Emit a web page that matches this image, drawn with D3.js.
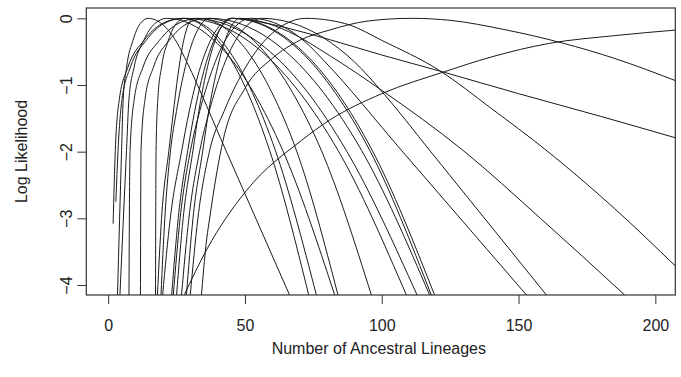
<!DOCTYPE html>
<html><head><meta charset="utf-8">
<script src="https://cdn.jsdelivr.net/npm/d3@7"></script>
<style>
body{margin:0;background:#fff}
text{font-family:"Liberation Sans",Arial,Helvetica,sans-serif;fill:#222}
</style>
</head><body>
<svg id="chart" width="681" height="377"></svg>
<script>
// ---- data ----
const xTicks = [0, 50, 100, 150, 200];
const yTicks = [0, -1, -2, -3, -4];
const xTitle = "Number of Ancestral Lineages";
const yTitle = "Log Likelihood";

// one [lineages, logLik] list per curve
const cA = [[1.8,-3.08],[2.6,-1.98],[4.06,-1.22],[7.24,-0.73],[13.1,-0.33],[19.7,-0.08],[27,0],[35,-0.124],[43,-0.495],[51,-1.114],[59,-1.98],[73.3,-4.15]];
const cB = [[2.8,-2.75],[3.6,-1.98],[5.03,-1.22],[8.14,-0.73],[13.9,-0.33],[20.3,-0.08],[27.5,0],[35.9,-0.124],[44.3,-0.495],[52.7,-1.114],[61.1,-1.98],[76.1,-4.15]];
const cC = [[3.4,-4.15],[4.9,-1.98],[5.48,-1.22],[6.74,-0.73],[9.07,-0.33],[11.69,-0.08],[14.6,0],[18.15,-0.041],[21.7,-0.165],[25.25,-0.372],[28.8,-0.661],[43,-1.98],[66.3,-4.15]];
const cD = [[4.3,-4.15],[6.7,-1.98],[7.58,-1.22],[9.49,-0.73],[13.02,-0.33],[17.0,-0.08],[21.4,0],[32,-0.124],[42.6,-0.495],[53.2,-1.114],[63.8,-1.98],[82.8,-4.15]];
const cE = [[7.6,-4.15],[7.74,-3.0],[8,-1.98],[9.5,-1.22],[12.75,-0.73],[18.75,-0.33],[25.5,-0.08],[33,0],[41.95,-0.124],[50.9,-0.495],[59.85,-1.114],[68.8,-1.98],[84,-4.15]];
const cF = [[11.8,-4.15],[11.87,-3.0],[12,-1.98],[13.44,-1.22],[16.56,-0.73],[22.32,-0.33],[28.8,-0.08],[36,0],[46.5,-0.124],[56.95,-0.495],[67.4,-1.114],[77.9,-1.98],[96.2,-4.15]];
const cG = [[17.3,-4.15],[17.38,-3.0],[17.5,-1.98],[18.13,-1.22],[19.5,-0.73],[22.0,-0.33],[24.85,-0.08],[28,0],[42,-0.124],[56,-0.495],[70,-1.114],[84,-1.98],[109,-4.15]];
const cH = [[18,-4.15],[19.5,-3.0],[22.2,-1.98],[23.7,-1.45],[25.5,-0.85],[27.6,-0.33],[29.3,-0.09],[31,0],[45,-0.124],[59,-0.495],[73,-1.114],[87,-1.98],[112.9,-4.15]];
const cI = [[19.3,-4.15],[20.7,-3.0],[22.8,-1.98],[24.93,-1.4],[27.77,-0.8],[31.32,-0.3],[34.16,-0.08],[37,0],[50.9,-0.124],[64.8,-0.495],[78.7,-1.114],[92.6,-1.98],[117.5,-4.15]];
const cJ = [[19.9,-4.15],[22.7,-3.0],[26.9,-1.98],[29.6,-1.4],[33.2,-0.8],[37.8,-0.3],[41.4,-0.08],[45,0],[57.65,-0.124],[70.3,-0.495],[82.95,-1.114],[95.6,-1.98],[118.1,-4.15]];
const cK = [[23.2,-4.15],[25.6,-3.0],[29.1,-1.98],[31.6,-1.4],[34.9,-0.8],[39,-0.3],[42.3,-0.08],[45.6,0],[58.3,-0.124],[71.05,-0.495],[83.8,-1.114],[96.5,-1.98],[119.3,-4.15]];
const cL = [[23.8,-4.15],[26.3,-3.0],[30.1,-1.98],[33.4,-1.4],[37.8,-0.8],[43.2,-0.3],[47.6,-0.08],[52,0],[58.75,-0.04],[65.5,-0.16],[72.25,-0.361],[79,-0.641],[107.2,-1.98],[152.9,-4.15]];
const cM = [[26.8,-4.15],[29.5,-3.0],[33.5,-1.98],[36.9,-1.4],[41.4,-0.8],[47,-0.3],[51.5,-0.08],[56,0],[67.25,-0.071],[78.5,-0.286],[89.75,-0.643],[101,-1.143],[117.5,-1.98],[160.2,-4.15]];
const cN = [[28.6,-4.15],[31,-3.0],[34.6,-1.98],[36.8,-1.38],[39.6,-0.8],[43,-0.3],[45.6,-0.08],[48,0],[56,-0.05],[66,-0.2],[81,-0.56],[100,-1.08],[129.7,-1.98],[158,-3.0],[188.8,-4.15]];
const cO = [[30,-4.15],[32.8,-3.0],[37.1,-1.98],[42.3,-1.4],[49.3,-0.8],[58,-0.3],[65,-0.08],[72,0],[81,-0.03],[88.3,-0.1],[100,-0.33],[121,-0.78],[140,-1.35],[160,-1.975],[185,-2.85],[207.7,-3.73]];
const cP = [[25,-4.15],[27.4,-3.0],[31,-1.98],[33.1,-1.4],[35.9,-0.8],[39.4,-0.3],[42.2,-0.08],[45,0],[55,-0.05],[65,-0.14],[81,-0.32],[100,-0.55],[122,-0.8],[150,-1.13],[180,-1.47],[208,-1.8]];
const cQ = [[34.1,-4.15],[35.5,-3.5],[37.7,-2.83],[42,-1.83],[50,-1.05],[60,-0.6],[70,-0.33],[81,-0.175],[95,-0.04],[111,0],[125,-0.03],[145,-0.17],[166,-0.37],[185,-0.6],[207.7,-0.94]];
const cR = [[27.8,-4.15],[36,-3.47],[50.6,-2.58],[70.7,-1.83],[81,-1.525],[100,-1.13],[123,-0.8],[140,-0.58],[161.3,-0.375],[185,-0.26],[207.7,-0.175]];

const curves = [cA,cB,cC,cD,cE,cF,cG,cH,cI,cJ,cK,cL,cM,cN,cO,cP,cQ,cR];

// ---- drawing ----
const svg = d3.select("#chart");
const box = {left: 86.3, right: 675.3, top: 8, bottom: 295};
const x = d3.scaleLinear().domain([-8, 207.3]).range([box.left, box.right]);
const y = d3.scaleLinear().domain([-4.15, 0.155]).range([box.bottom, box.top]);
const FS = 16;

svg.append("defs").append("clipPath").attr("id","clip")
  .append("rect").attr("x",box.left).attr("y",box.top)
  .attr("width",box.right-box.left).attr("height",box.bottom-box.top);

const line = d3.line().x(d=>x(d[0])).y(d=>y(d[1])).curve(d3.curveMonotoneX);
svg.append("g").attr("clip-path","url(#clip)")
  .selectAll("path").data(curves).join("path")
  .attr("d", line).attr("fill","none").attr("stroke","#1a1a1a").attr("stroke-width",1);

// box
svg.append("rect").attr("x",box.left).attr("y",box.top)
  .attr("width",box.right-box.left).attr("height",box.bottom-box.top)
  .attr("fill","none").attr("stroke","#333").attr("stroke-width",1.2);

// axes (R style: ticks only at labelled values, no outer ticks)
const fmt = d => d < 0 ? "\u2212" + Math.abs(d) : String(d);
const xAxis = d3.axisBottom(x).tickValues(xTicks).tickSizeInner(9).tickSizeOuter(0).tickPadding(16).tickFormat(fmt);
const gx = svg.append("g").attr("transform",`translate(0,${box.bottom})`).call(xAxis);
gx.select(".domain").remove();
gx.selectAll(".tick line").attr("stroke","#333");
gx.selectAll("text").attr("font-size",FS).attr("fill","#222")
  .attr("font-family","'Liberation Sans',Arial,sans-serif");

const yAxis = d3.axisLeft(y).tickValues(yTicks).tickSizeInner(9).tickSizeOuter(0).tickFormat(fmt);
const gy = svg.append("g").attr("transform",`translate(${box.left},0)`).call(yAxis);
gy.select(".domain").remove();
gy.selectAll(".tick line").attr("stroke","#333");
gy.selectAll(".tick text").attr("font-size",FS).attr("fill","#222")
  .attr("font-family","'Liberation Sans',Arial,sans-serif")
  .attr("x",0).attr("y",0).attr("dy",0).attr("text-anchor","middle")
  .attr("transform","translate(-14,0) rotate(-90)");

svg.append("text").attr("x",(box.left+box.right)/2 - 2).attr("y",354)
  .attr("text-anchor","middle").attr("font-size",FS).text(xTitle);
svg.append("text").attr("transform",`translate(27,${(box.top+box.bottom)/2}) rotate(-90)`)
  .attr("text-anchor","middle").attr("font-size",FS).text(yTitle);
</script>
</body></html>
